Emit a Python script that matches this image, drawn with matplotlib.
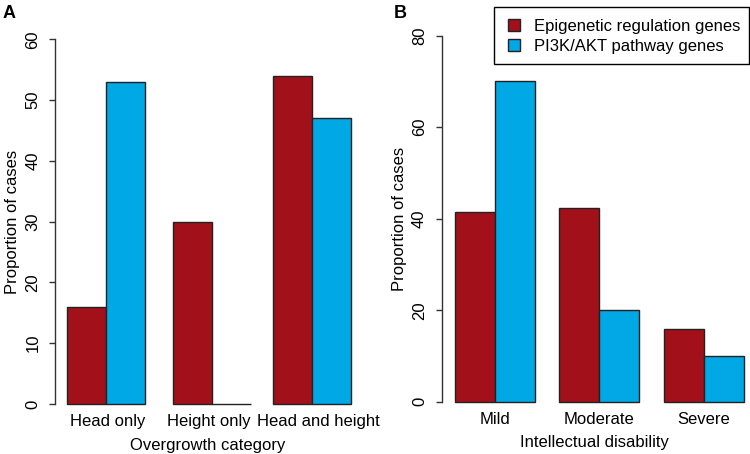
import matplotlib
matplotlib.use("Agg")
import matplotlib.pyplot as plt
from matplotlib.patches import Patch, Rectangle
import numpy as np

plt.rcParams['font.family'] = ['Liberation Sans', 'DejaVu Sans']

# Data
overgrowth_categories = ["Head only", "Height only", "Head and height"]
overgrowth_epigenetic = [16, 30, 54]
overgrowth_pi3k = [53, 0, 47]

id_categories = ["Mild", "Moderate", "Severe"]
id_epigenetic = [41.5, 42.4, 16]
id_pi3k = [70, 20, 10]

series_names = ["Epigenetic regulation genes", "PI3K/AKT pathway genes"]
red = "#A21119"
blue = "#00A8E6"
edge = "#222222"

W, H = 750, 454
fig = plt.figure(figsize=(W / 100, H / 100), dpi=100)

def px_axes(x0, x1, ytop, ybot):
    return fig.add_axes([x0 / W, (H - ybot) / H, (x1 - x0) / W, (ybot - ytop) / H])

def style(ax, ymax, yticks, pad):
    for s in ["top", "right", "bottom"]:
        ax.spines[s].set_visible(False)
    ax.spines["left"].set_color("#333333")
    ax.spines["left"].set_linewidth(1.0)
    ax.spines["left"].set_bounds(0, ymax)
    ax.set_ylim(0, ymax)
    ax.set_yticks(yticks)
    ax.set_yticklabels([str(t) for t in yticks], rotation=90, va="center", fontsize=12)
    ax.tick_params(axis="y", length=4.5, width=1.0, color="#333333", pad=pad)
    ax.tick_params(axis="x", length=0, pad=7.5, labelsize=12)

def draw(ax, centers, a, b):
    c = np.array(centers)
    ax.bar(c - 0.5, a, width=1.0, color=red, edgecolor=edge, linewidth=1.0, clip_on=False)
    ax.bar(c + 0.5, b, width=1.0, color=blue, edgecolor=edge, linewidth=1.0, clip_on=False)

# Panel A
axA = px_axes(55, 360, 39.3, 404)
centersA = [0, 2.72, 5.28]
draw(axA, centersA, overgrowth_epigenetic, overgrowth_pi3k)
axA.set_xlim(-1.31, 6.51)
style(axA, 60, [0, 10, 20, 30, 40, 50, 60], 6)
axA.set_xticks([0.03, 2.64, 5.44])
axA.set_xticklabels(overgrowth_categories)
axA.set_xlabel("Overgrowth category", fontsize=12, labelpad=6)
axA.set_ylabel("Proportion of cases", fontsize=12, labelpad=4)

# Panel B
axB = px_axes(441.7, 748, 35.7, 401.7)
centersB = [0, 2.6, 5.225]
draw(axB, centersB, id_epigenetic, id_pi3k)
axB.set_xlim(-1.325, 6.33)
style(axB, 80, [0, 20, 40, 60, 80], 6)
axB.set_xticks(centersB)
axB.set_xticklabels(id_categories)
axB.set_xlabel("Intellectual disability", fontsize=12, labelpad=6)
axB.set_ylabel("Proportion of cases", fontsize=12, labelpad=4)

fig.text(3 / W, (H - 18) / H, "A", fontsize=13, fontweight="bold")
fig.text(394 / W, (H - 18) / H, "B", fontsize=13, fontweight="bold")

# legend frame
fig.patches.append(Rectangle((494 / W, (H - 64.3) / H), (749 - 494) / W, (64.3 - 6.7) / H,
                             transform=fig.transFigure, facecolor="white",
                             edgecolor="black", linewidth=1.0, zorder=5))
handles = [Patch(facecolor=red, edgecolor=edge, linewidth=1.0),
           Patch(facecolor=blue, edgecolor=edge, linewidth=1.0)]
leg = fig.legend(handles, series_names, loc="upper left",
                 bbox_to_anchor=(508 / W, (H - 19) / H),
                 fontsize=12, frameon=False,
                 handlelength=0.7, handleheight=0.7, handletextpad=0.85,
                 labelspacing=0.28, borderpad=0, borderaxespad=0)
leg.set_zorder(6)

fig.savefig("out.png", dpi=100)
